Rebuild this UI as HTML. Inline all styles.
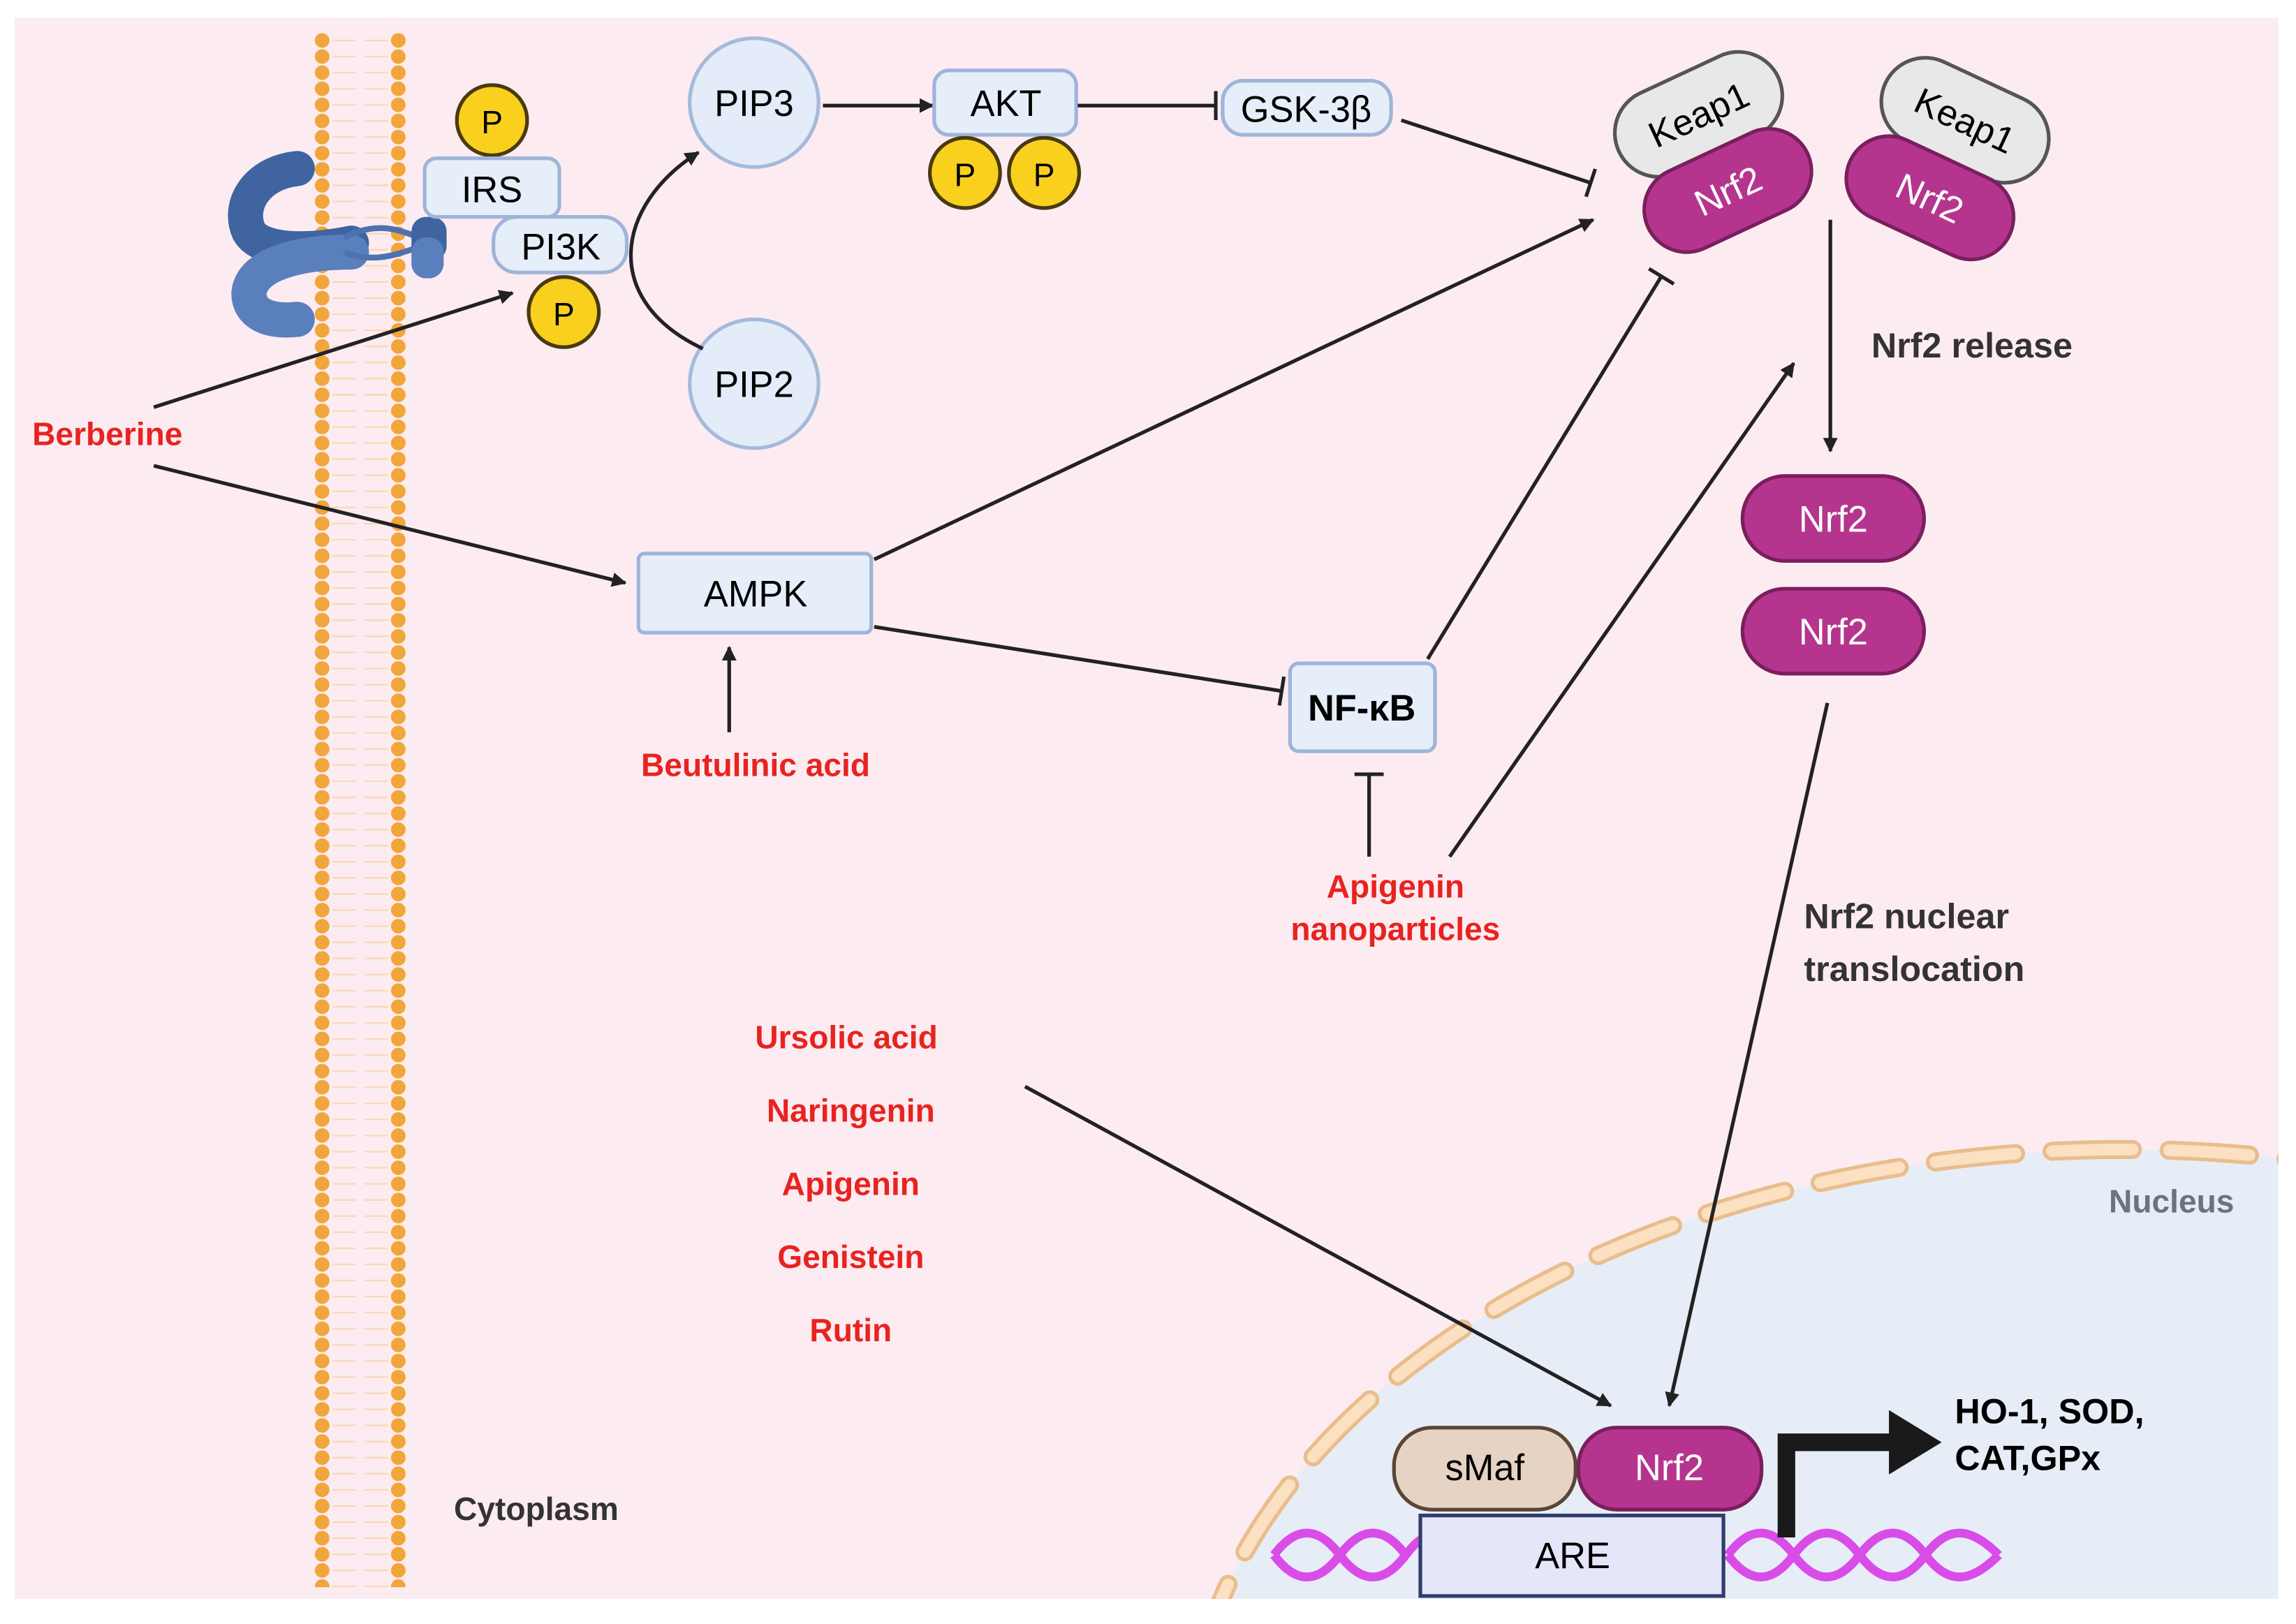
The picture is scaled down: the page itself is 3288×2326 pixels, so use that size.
<!DOCTYPE html>
<html><head><meta charset="utf-8"><style>html,body{margin:0;padding:0;background:#fff;overflow:hidden;width:3288px;height:2326px}svg{display:block}</style></head>
<body>
<svg width="3288" height="2326" viewBox="0 0 1568 1109" xmlns="http://www.w3.org/2000/svg" font-family="Liberation Sans, sans-serif">
<defs>
<marker id="ar" markerWidth="10" markerHeight="10" refX="9" refY="5" orient="auto" markerUnits="userSpaceOnUse" viewBox="0 0 10 10"><path d="M0,0 L10,5 L0,10 z" fill="#222"/></marker>
<marker id="tb" markerWidth="4" markerHeight="20" refX="2" refY="10" orient="auto" markerUnits="userSpaceOnUse" viewBox="0 0 4 20"><rect x="0" y="0" width="2.5" height="20" fill="#222"/></marker>
<pattern id="dots" x="215" y="22" width="52" height="11" patternUnits="userSpaceOnUse"><circle cx="5" cy="5.5" r="5" fill="#f2a53a"/></pattern>
<pattern id="lip" x="226" y="22" width="40" height="11" patternUnits="userSpaceOnUse"><line x1="1" y1="5.5" x2="17" y2="5.5" stroke="#f7d9b0" stroke-width="1"/><line x1="23" y1="5.5" x2="39" y2="5.5" stroke="#f7d9b0" stroke-width="1"/></pattern>
<clipPath id="bg"><rect x="10" y="12" width="1546" height="1080"/></clipPath>
</defs>
<rect width="1568" height="1109" fill="#fff"/>
<rect x="10" y="12" width="1546" height="1080" fill="#fcecf2"/>
<g clip-path="url(#bg)">
<ellipse cx="1450" cy="1207" rx="640" ry="422" fill="#e7edf7"/>
<ellipse cx="1450" cy="1207" rx="640" ry="422" fill="none" stroke="#e9bd8c" stroke-width="13" stroke-dasharray="55 25" stroke-linecap="round"/>
<ellipse cx="1450" cy="1207" rx="640" ry="422" fill="none" stroke="#fbe0c2" stroke-width="8" stroke-dasharray="55 25" stroke-linecap="round"/>
</g>
<!-- membrane -->
<rect x="226" y="22" width="40" height="1062" fill="url(#lip)"/>
<rect x="214" y="22" width="64" height="1062" fill="url(#dots)"/>
<!-- receptor -->
<path d="M203,115 C175,118 162,140 170,158 C178,172 210,172 240,166" fill="none" stroke="#3f64a0" stroke-width="24" stroke-linecap="round"/>
<path d="M240,172 C205,172 172,180 170,200 C170,215 185,220 203,218" fill="none" stroke="#5a7fbd" stroke-width="24" stroke-linecap="round"/>
<path d="M235,162 C255,152 270,155 288,163 M235,172 C255,180 270,174 288,168" stroke="#4e72b0" stroke-width="4" fill="none"/>
<rect x="281" y="148" width="24" height="30" rx="10" fill="#3f64a0"/>
<rect x="281" y="162" width="22" height="28" rx="10" fill="#5a7fbd"/>
<!-- IRS / PI3K -->
<circle cx="336" cy="82" r="24" fill="#f9d01e" stroke="#4a3a10" stroke-width="2.5"/>
<text x="336" y="91" font-size="22" text-anchor="middle">P</text>
<rect x="290" y="108" width="92" height="40" rx="8" fill="#e6eff9" stroke="#9fb4d8" stroke-width="2.5"/>
<text x="336" y="138" font-size="25" text-anchor="middle">IRS</text>
<rect x="337" y="148" width="91" height="38" rx="16" fill="#e6eff9" stroke="#9fb4d8" stroke-width="2.5"/>
<text x="383" y="177" font-size="25" text-anchor="middle">PI3K</text>
<circle cx="385" cy="213" r="24" fill="#f9d01e" stroke="#4a3a10" stroke-width="2.5"/>
<text x="385" y="222" font-size="22" text-anchor="middle">P</text>
<!-- PIP -->
<circle cx="515" cy="70" r="44" fill="#e3ecf8" stroke="#a5badb" stroke-width="2.5"/>
<text x="515" y="79" font-size="25" text-anchor="middle">PIP3</text>
<circle cx="515" cy="262" r="44" fill="#e3ecf8" stroke="#a5badb" stroke-width="2.5"/>
<text x="515" y="271" font-size="25" text-anchor="middle">PIP2</text>
<path d="M480,238 C410,205 420,140 477,104" fill="none" stroke="#222" stroke-width="2.5" marker-end="url(#ar)"/>
<line x1="562" y1="72" x2="637" y2="72" stroke="#222" stroke-width="2.5" marker-end="url(#ar)"/>
<rect x="638" y="48" width="97" height="44" rx="10" fill="#e6eff9" stroke="#9fb4d8" stroke-width="2.5"/>
<text x="687" y="79" font-size="25" text-anchor="middle">AKT</text>
<circle cx="659" cy="118" r="24" fill="#f9d01e" stroke="#4a3a10" stroke-width="2.5"/>
<text x="659" y="127" font-size="22" text-anchor="middle">P</text>
<circle cx="713" cy="118" r="24" fill="#f9d01e" stroke="#4a3a10" stroke-width="2.5"/>
<text x="713" y="127" font-size="22" text-anchor="middle">P</text>
<line x1="736" y1="72" x2="831" y2="72" stroke="#222" stroke-width="2.5" marker-end="url(#tb)"/>
<rect x="835" y="55" width="115" height="37" rx="14" fill="#e6eff9" stroke="#9fb4d8" stroke-width="2.5"/>
<text x="892" y="83" font-size="25" text-anchor="middle">GSK-3β</text>
<line x1="957" y1="82" x2="1087" y2="125" stroke="#222" stroke-width="2.5" marker-end="url(#tb)"/>
<!-- Keap1/Nrf2 complexes -->
<g transform="translate(1160,78) rotate(-25)"><rect x="-60" y="-30" width="120" height="60" rx="30" fill="#e8e8e8" stroke="#555" stroke-width="2.5"/><text y="9" font-size="25" text-anchor="middle">Keap1</text></g>
<g transform="translate(1180,130) rotate(-25)"><rect x="-60" y="-29" width="120" height="58" rx="29" fill="#b5358e" stroke="#7a1f5e" stroke-width="2.5"/><text y="9" font-size="25" fill="#fff" text-anchor="middle">Nrf2</text></g>
<g transform="translate(1342,82) rotate(25)"><rect x="-60" y="-30" width="120" height="60" rx="30" fill="#e8e8e8" stroke="#555" stroke-width="2.5"/><text y="9" font-size="25" text-anchor="middle">Keap1</text></g>
<g transform="translate(1318,135) rotate(25)"><rect x="-60" y="-29" width="120" height="58" rx="29" fill="#b5358e" stroke="#7a1f5e" stroke-width="2.5"/><text y="9" font-size="25" fill="#fff" text-anchor="middle">Nrf2</text></g>
<line x1="1250" y1="150" x2="1250" y2="308" stroke="#222" stroke-width="2.5" marker-end="url(#ar)"/>
<text x="1278" y="244" font-size="24" font-weight="bold" fill="#333">Nrf2 release</text>
<rect x="1190" y="325" width="124" height="58" rx="29" fill="#b5358e" stroke="#7a1f5e" stroke-width="2.5"/>
<text x="1252" y="363" font-size="25" fill="#fff" text-anchor="middle">Nrf2</text>
<rect x="1190" y="402" width="124" height="58" rx="29" fill="#b5358e" stroke="#7a1f5e" stroke-width="2.5"/>
<text x="1252" y="440" font-size="25" fill="#fff" text-anchor="middle">Nrf2</text>
<text x="1232" y="634" font-size="24" font-weight="bold" fill="#333">Nrf2 nuclear</text>
<text x="1232" y="670" font-size="24" font-weight="bold" fill="#333">translocation</text>
<line x1="1248" y1="480" x2="1140" y2="960" stroke="#222" stroke-width="2.5" marker-end="url(#ar)"/>
<!-- Berberine -->
<text x="22" y="304" font-size="22" font-weight="bold" fill="#e8231f">Berberine</text>
<line x1="105" y1="278" x2="350" y2="200" stroke="#222" stroke-width="2.5" marker-end="url(#ar)"/>
<line x1="105" y1="318" x2="427" y2="398" stroke="#222" stroke-width="2.5" marker-end="url(#ar)"/>
<rect x="436" y="378" width="159" height="54" rx="4" fill="#e6eff9" stroke="#9fb4d8" stroke-width="2.5"/>
<text x="516" y="414" font-size="25" text-anchor="middle">AMPK</text>
<line x1="597" y1="382" x2="1088" y2="150" stroke="#222" stroke-width="2.5" marker-end="url(#ar)"/>
<line x1="597" y1="428" x2="876" y2="472" stroke="#222" stroke-width="2.5" marker-end="url(#tb)"/>
<rect x="881" y="453" width="99" height="60" rx="6" fill="#e6eff9" stroke="#9fb4d8" stroke-width="2.5"/>
<text x="930" y="492" font-size="25" font-weight="bold" text-anchor="middle">NF-κB</text>
<line x1="975" y1="450" x2="1135" y2="188" stroke="#222" stroke-width="2.5" marker-end="url(#tb)"/>
<line x1="498" y1="500" x2="498" y2="442" stroke="#222" stroke-width="2.5" marker-end="url(#ar)"/>
<text x="516" y="530" font-size="22" font-weight="bold" fill="#e8231f" text-anchor="middle">Beutulinic acid</text>
<text x="953" y="613" font-size="22" font-weight="bold" fill="#e8231f" text-anchor="middle">Apigenin</text>
<text x="953" y="642" font-size="22" font-weight="bold" fill="#e8231f" text-anchor="middle">nanoparticles</text>
<line x1="935" y1="585" x2="935" y2="528" stroke="#222" stroke-width="2.5" marker-end="url(#tb)"/>
<line x1="990" y1="585" x2="1225" y2="248" stroke="#222" stroke-width="2.5" marker-end="url(#ar)"/>
<g font-size="22" font-weight="bold" fill="#e8231f" text-anchor="middle">
<text x="578" y="716">Ursolic acid</text>
<text x="581" y="766">Naringenin</text>
<text x="581" y="816">Apigenin</text>
<text x="581" y="866">Genistein</text>
<text x="581" y="916">Rutin</text>
</g>
<line x1="700" y1="742" x2="1100" y2="960" stroke="#222" stroke-width="2.5" marker-end="url(#ar)"/>
<text x="310" y="1038" font-size="22" font-weight="bold" fill="#333">Cytoplasm</text>
<text x="1483" y="828" font-size="22" font-weight="bold" fill="#6b7280" text-anchor="middle">Nucleus</text>
<!-- DNA -->
<g fill="none" stroke="#d94ce8" stroke-width="6">
<path d="M870,1062 C885,1042 900,1042 915,1062 S945,1082 960,1062 S990,1042 1005,1062"/>
<path d="M870,1062 C885,1082 900,1082 915,1062 S945,1042 960,1062"/>
<path d="M1180,1062 C1195,1042 1210,1042 1225,1062 S1255,1082 1270,1062 S1300,1042 1315,1062 S1345,1082 1365,1062"/>
<path d="M1180,1062 C1195,1082 1210,1082 1225,1062 S1255,1042 1270,1062 S1300,1082 1315,1062 S1345,1042 1365,1062"/>
</g>
<rect x="970" y="1035" width="207" height="55" fill="#e6e6fa" stroke="#2f3e6e" stroke-width="2.5"/>
<text x="1074" y="1071" font-size="25" text-anchor="middle">ARE</text>
<rect x="952" y="975" width="124" height="56" rx="26" fill="#e6d3c3" stroke="#5a4536" stroke-width="2.5"/>
<text x="1014" y="1011" font-size="25" text-anchor="middle">sMaf</text>
<rect x="1078" y="975" width="125" height="56" rx="26" fill="#b5358e" stroke="#7a1f5e" stroke-width="2.5"/>
<text x="1140" y="1011" font-size="25" fill="#fff" text-anchor="middle">Nrf2</text>
<path d="M1220,1050 L1220,985 L1295,985" fill="none" stroke="#1a1a1a" stroke-width="12"/>
<path d="M1290,963 L1326,985 L1290,1007 Z" fill="#1a1a1a"/>
<text x="1335" y="972" font-size="24" font-weight="bold">HO-1, SOD,</text>
<text x="1335" y="1004" font-size="24" font-weight="bold">CAT,GPx</text>
</svg>
</body></html>
